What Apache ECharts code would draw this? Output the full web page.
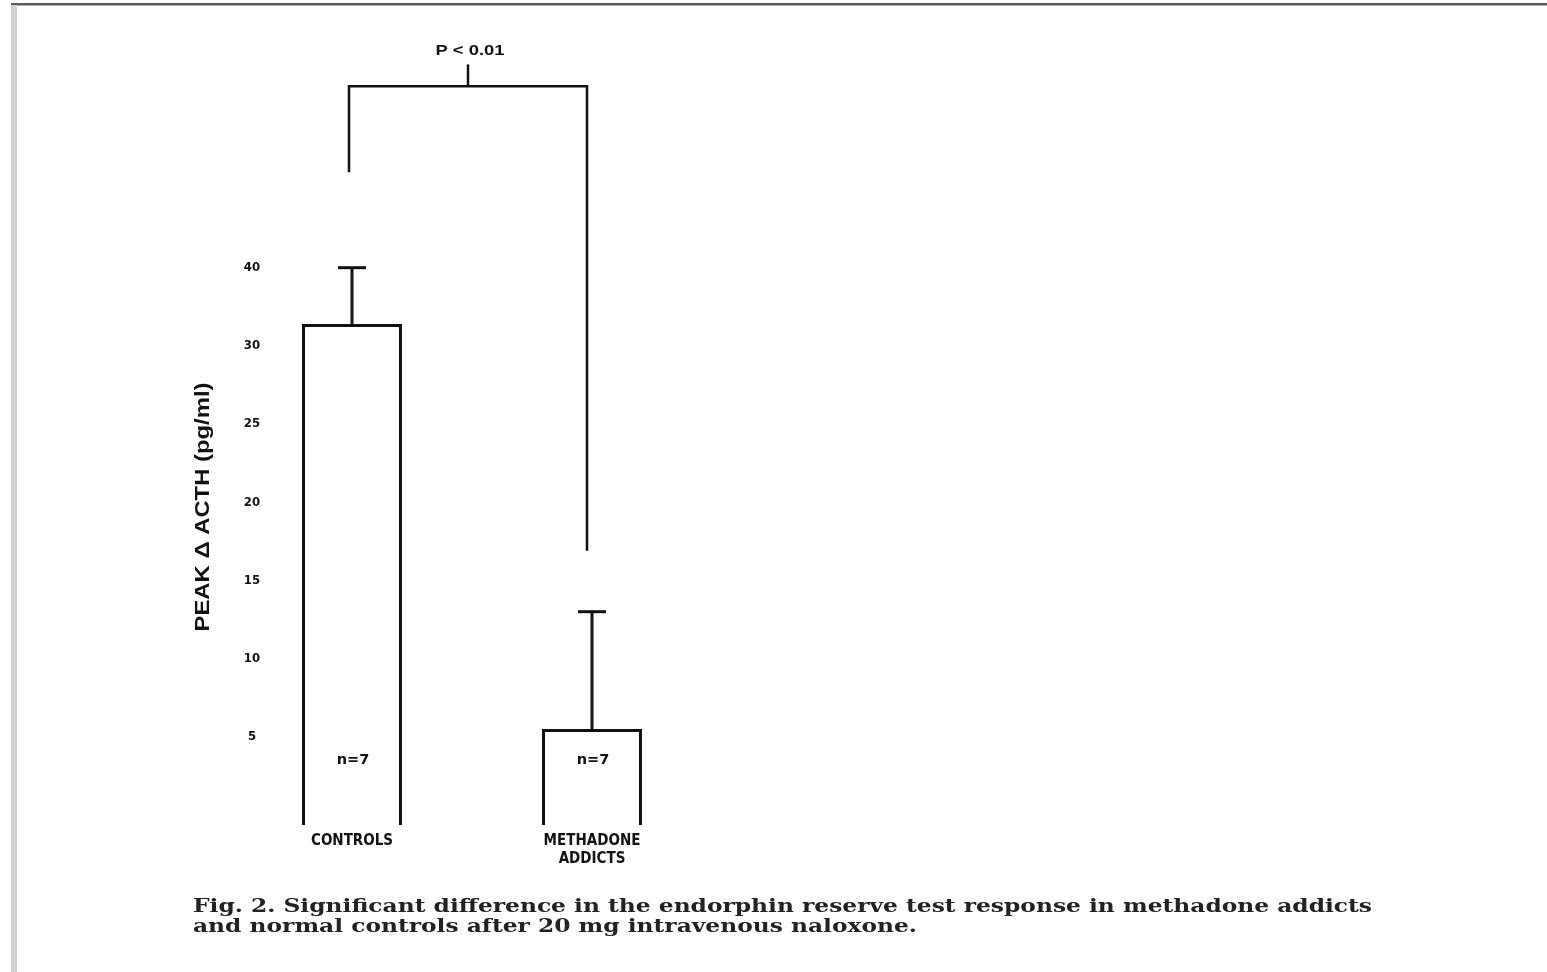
<!DOCTYPE html>
<html>
<head>
<meta charset="utf-8">
<script src="https://cdn.jsdelivr.net/npm/echarts@6/dist/echarts.min.js"></script>
<style>
  html, body { margin: 0; padding: 0; background: #fff; }
  #main { width: 1547px; height: 972px; }
</style>
</head>
<body>
<div id="main"></div>
<script>
// data
var categories = ['CONTROLS', 'METHADONE\nADDICTS'];
var means = [31.3, 5.4];
var errTops = [35, 13];
var nLabels = ['n=7', 'n=7'];
var tickValues = [5, 10, 15, 20, 25, 30, 35];
var tickLabels = ['5', '10', '15', '20', '25', '30', '40'];
var bracketLegs = [41.1, 16.9];
var bracketTop = 46.6;
var pTickTop = 48.0;
var pText = 'P < 0.01';
var nLabelAt = 3.5;
var yTitle = 'PEAK \u0394 ACTH (pg/ml)';
var captionLines = [
    'Fig. 2. Significant difference in the endorphin reserve test response in methadone addicts',
    'and normal controls after 20 mg intravenous naloxone.'
];

var yMin = -0.64, yMax = 50.2;
var chartFont = "'Liberation Sans Narrow', 'DejaVu Sans Condensed', sans-serif";
var capFont = "'DejaVu Serif', serif";
var titleFont = "'Liberation Sans', Arial, sans-serif";

// stretch factor so a text fills the width measured on the scan
function stretch(text, font, target) {
    var ctx = document.createElement('canvas').getContext('2d');
    ctx.font = font;
    return target / ctx.measureText(text).width;
}
var capScale = stretch(captionLines[0], 'bold 18px ' + capFont, 1179);
var yTitleScale = stretch(yTitle, 'bold 20px ' + titleFont, 249);
var pScale = stretch(pText, 'bold 14px ' + titleFont, 69);

var myChart = echarts.init(document.getElementById('main'));

var option = {
    backgroundColor: '#fff',
    animation: false,
    grid: { left: 232, right: 1547 - 712, top: 30, bottom: 972 - 825 },
    xAxis: {
        type: 'category',
        data: categories,
        axisLine: { show: false },
        axisTick: { show: false },
        axisLabel: {
            margin: 7,
            color: '#111',
            fontFamily: chartFont,
            fontWeight: 'bold',
            fontSize: 15,
            lineHeight: 18
        }
    },
    yAxis: {
        type: 'value',
        min: yMin,
        max: yMax,
        splitLine: { show: false },
        axisLine: { show: false },
        axisTick: { show: false },
        axisLabel: {
            inside: true,
            margin: 20,
            align: 'center',
            color: '#111',
            fontFamily: chartFont,
            fontWeight: 'bold',
            fontSize: 13,
            customValues: tickValues,
            formatter: function (v) {
                var i = tickValues.indexOf(v);
                return i >= 0 ? tickLabels[i] : '';
            }
        }
    },
    graphic: [
        { type: 'rect', shape: { x: 11, y: 3, width: 1536, height: 2 }, style: { fill: '#5a5a5a' } },
        { type: 'rect', shape: { x: 11, y: 5, width: 1536, height: 1 }, style: { fill: '#a8a8a8' } },
        { type: 'rect', shape: { x: 11, y: 5, width: 6, height: 967 }, style: { fill: '#d2d2d2' } },
        {
            type: 'text',
            x: 203,
            y: 507,
            rotation: Math.PI / 2,
            scaleX: yTitleScale,
            style: {
                text: yTitle,
                fontFamily: titleFont,
                fontWeight: 'bold',
                fontSize: 20,
                fill: '#111',
                align: 'center',
                verticalAlign: 'middle'
            }
        },
        {
            type: 'text',
            x: 193,
            y: 897,
            scaleX: capScale,
            style: {
                text: captionLines.join('\n'),
                fontFamily: capFont,
                fontWeight: 'bold',
                fontSize: 18,
                lineHeight: 20,
                fill: '#222',
                align: 'left',
                verticalAlign: 'top'
            }
        }
    ],
    series: [
        {
            type: 'custom',
            name: 'bars',
            data: categories.map(function (c, i) { return [i, means[i], errTops[i]]; }),
            renderItem: function (params, api) {
                var i = api.value(0);
                var top = api.coord([i, api.value(1)]);
                var base = api.coord([i, yMin]);
                var err = api.coord([i, api.value(2)]);
                var bw = api.size([1, 0])[0] * 0.404;
                var x = top[0];
                var ls = { stroke: '#111', lineWidth: 3, fill: null };
                return {
                    type: 'group',
                    children: [
                        { type: 'polyline', shape: { points: [[x - bw / 2, base[1]], [x - bw / 2, top[1]], [x + bw / 2, top[1]], [x + bw / 2, base[1]]] }, style: ls },
                        { type: 'line', shape: { x1: x, y1: top[1], x2: x, y2: err[1] }, style: ls },
                        { type: 'line', shape: { x1: x - 14, y1: err[1], x2: x + 14, y2: err[1] }, style: ls },
                        {
                            type: 'text',
                            x: x + 1,
                            y: api.coord([i, nLabelAt])[1],
                            scaleX: 1.15,
                            style: {
                                text: nLabels[i],
                                fontFamily: chartFont,
                                fontWeight: 'bold',
                                fontSize: 14,
                                fill: '#111',
                                align: 'center',
                                verticalAlign: 'middle'
                            }
                        }
                    ]
                };
            }
        },
        {
            type: 'custom',
            name: 'bracket',
            data: [[0, bracketLegs[0], bracketLegs[1], bracketTop, pTickTop]],
            renderItem: function (params, api) {
                var l = api.coord([0, api.value(1)]);
                var r = api.coord([1, api.value(2)]);
                var t = api.coord([0, api.value(3)])[1];
                var tickTop = api.coord([0, api.value(4)])[1];
                var xl = l[0] - 3, xr = r[0] - 5;
                var xm = (xl + xr) / 2;
                var ls = { stroke: '#111', lineWidth: 2.5, fill: null };
                return {
                    type: 'group',
                    children: [
                        { type: 'polyline', shape: { points: [[xl, l[1]], [xl, t], [xr, t], [xr, r[1]]] }, style: ls },
                        { type: 'line', shape: { x1: xm, y1: t, x2: xm, y2: tickTop }, style: ls },
                        {
                            type: 'text',
                            x: xm + 2,
                            y: tickTop - 13,
                            scaleX: pScale,
                            style: {
                                text: pText,
                                fontFamily: titleFont,
                                fontWeight: 'bold',
                                fontSize: 14,
                                fill: '#111',
                                align: 'center',
                                verticalAlign: 'middle'
                            }
                        }
                    ]
                };
            }
        }
    ]
};

myChart.setOption(option);
</script>
</body>
</html>
